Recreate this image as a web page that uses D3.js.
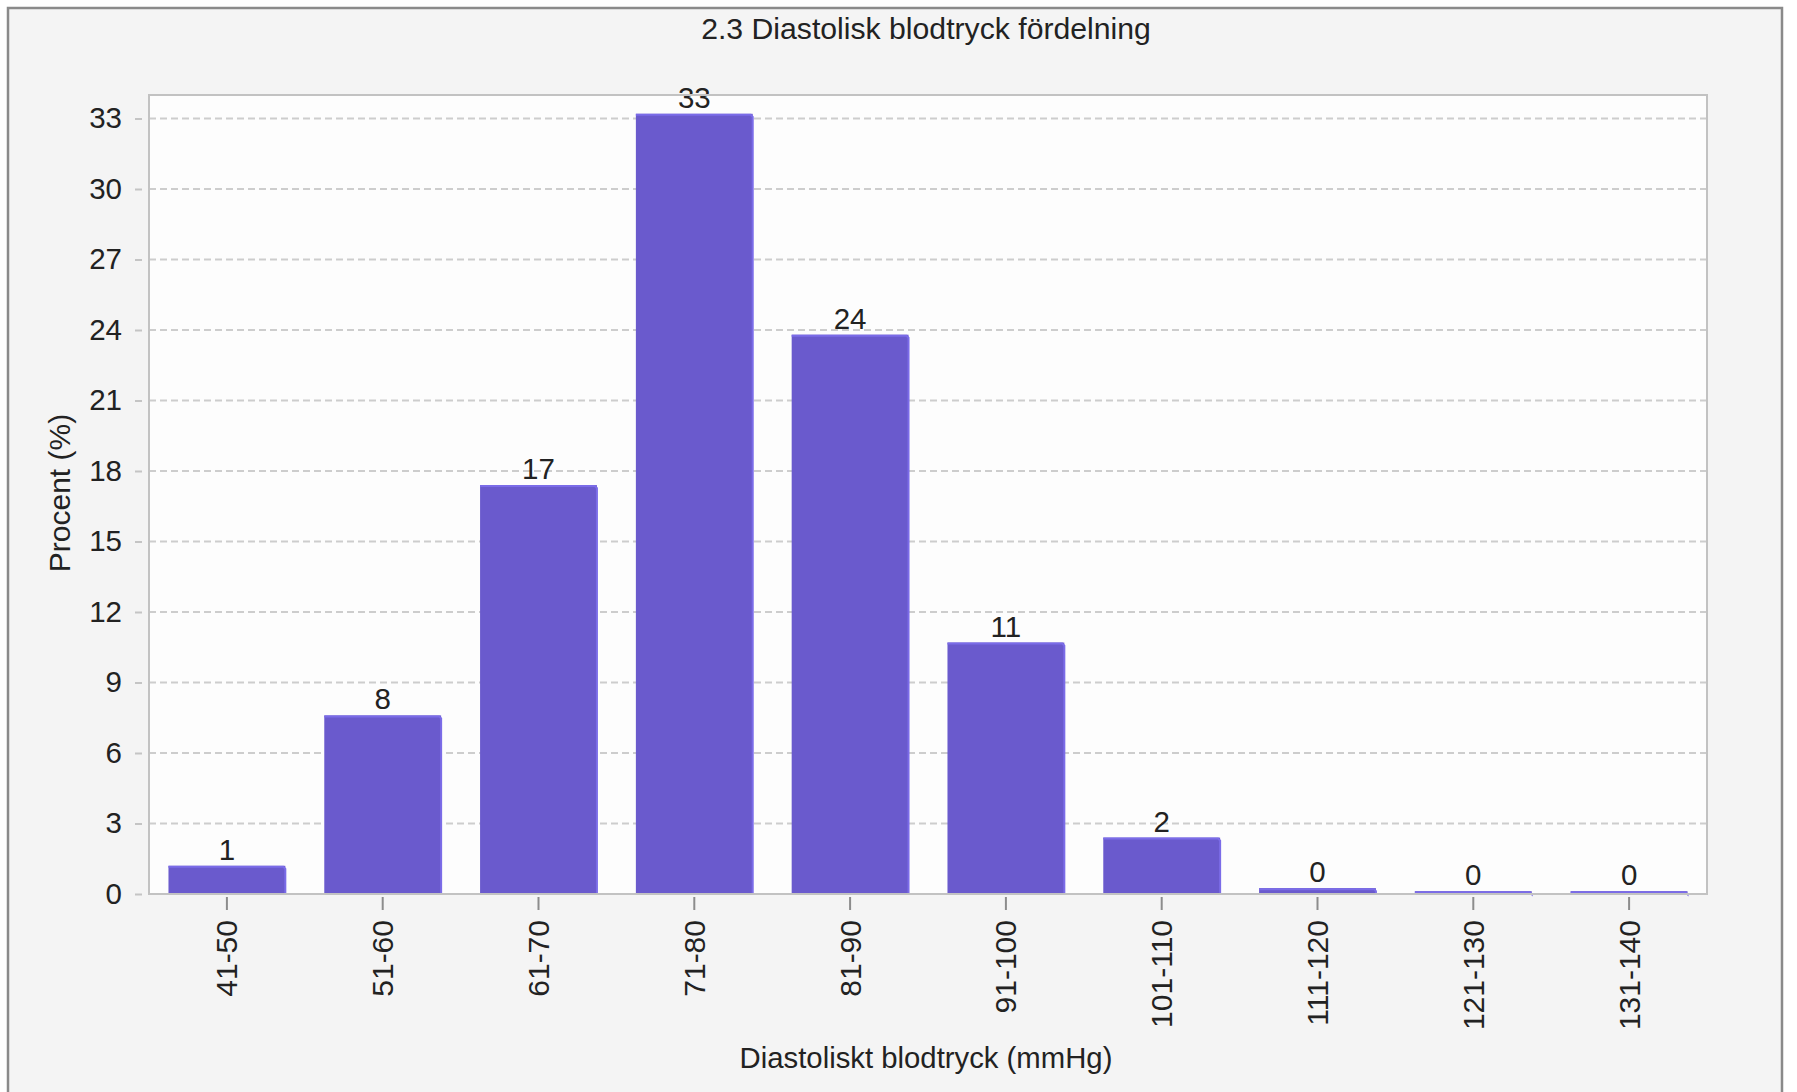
<!DOCTYPE html>
<html>
<head>
<meta charset="utf-8">
<script src="https://cdn.jsdelivr.net/npm/d3@7"></script>
<style>
  html, body { margin: 0; padding: 0; background: #ffffff; }
  svg { display: block; font-family: "Liberation Sans", Arial, sans-serif; }
</style>
</head>
<body>
<div id="chart"></div>
<script>
// data
const categories = ['41-50', '51-60', '61-70', '71-80', '81-90', '91-100', '101-110', '111-120', '121-130', '131-140'];
const percentValues = [1.2, 7.6, 17.4, 33.2, 23.8, 10.7, 2.4, 0.25, 0.12, 0.12];
const valueLabels = ['1', '8', '17', '33', '24', '11', '2', '0', '0', '0'];
const yTicks = [0, 3, 6, 9, 12, 15, 18, 21, 24, 27, 30, 33];

const titleText = '2.3 Diastolisk blodtryck fördelning';
const xTitle = 'Diastoliskt blodtryck (mmHg)';
const yTitle = 'Procent (%)';

const W = 1797, H = 1092;
const plot = { left: 149, right: 1707, top: 95, bottom: 894 };

const svg = d3.select('#chart')
    .append('svg')
    .attr('width', W)
    .attr('height', H);

// outer panel
svg.append('rect')
    .attr('x', 0).attr('y', 0)
    .attr('width', W).attr('height', H)
    .attr('fill', '#ffffff');

svg.append('rect')
    .attr('x', 8).attr('y', 8)
    .attr('width', 1774).attr('height', H + 20)
    .attr('fill', '#f4f4f4')
    .attr('stroke', '#8a8a8a')
    .attr('stroke-width', 2.5);

const x = d3.scaleBand()
    .domain(categories)
    .range([plot.left, plot.right])
    .paddingInner(0.25)
    .paddingOuter(0.125);

const y = d3.scaleLinear()
    .domain([0, 34])
    .range([plot.bottom, plot.top]);

// plot background
svg.append('rect')
    .attr('x', plot.left).attr('y', plot.top)
    .attr('width', plot.right - plot.left)
    .attr('height', plot.bottom - plot.top)
    .attr('fill', '#fdfdfd');

// dashed grid
svg.append('g')
    .selectAll('line')
    .data(yTicks.filter(d => d > 0))
    .join('line')
    .attr('x1', plot.left).attr('x2', plot.right)
    .attr('y1', d => y(d)).attr('y2', d => y(d))
    .attr('stroke', '#cdcdcd')
    .attr('stroke-width', 2)
    .attr('stroke-dasharray', '7,4');

// y axis (ticks offset from the plot edge)
const yAxis = svg.append('g')
    .attr('transform', `translate(${plot.left - 7},0)`)
    .call(d3.axisLeft(y).tickValues(yTicks).tickSize(7).tickPadding(13));
yAxis.select('.domain').remove();
yAxis.selectAll('.tick line').attr('stroke', '#c4c4c4').attr('stroke-width', 2);
yAxis.selectAll('.tick text')
    .attr('font-size', 29.5)
    .attr('fill', '#222')
    .attr('font-family', '"Liberation Sans", Arial, sans-serif');

// bars
const bars = svg.append('g');
bars.selectAll('rect')
    .data(percentValues)
    .join('rect')
    .attr('x', (d, i) => x(categories[i]))
    .attr('y', d => y(d))
    .attr('width', x.bandwidth())
    .attr('height', d => y(0) - y(d))
    .attr('fill', '#6a5acd');

// lighter bevel edge on top and right
bars.selectAll('path')
    .data(percentValues)
    .join('path')
    .attr('d', (d, i) => {
        const x0 = x(categories[i]), x1 = x0 + x.bandwidth();
        return `M${x0},${y(d) + 1}L${x1 - 2},${y(d) + 1}L${x1},${y(d) + 3}L${x1},${y(0)}`;
    })
    .attr('fill', 'none')
    .attr('stroke', '#7b6ce8')
    .attr('stroke-width', 2);

// value labels
svg.append('g')
    .selectAll('text')
    .data(percentValues)
    .join('text')
    .attr('x', (d, i) => x(categories[i]) + x.bandwidth() / 2)
    .attr('y', d => y(d) - 6)
    .attr('text-anchor', 'middle')
    .attr('font-size', 29.5)
    .attr('fill', '#222')
    .text((d, i) => valueLabels[i]);

// plot border
svg.append('rect')
    .attr('x', plot.left).attr('y', plot.top)
    .attr('width', plot.right - plot.left)
    .attr('height', plot.bottom - plot.top)
    .attr('fill', 'none')
    .attr('stroke', '#c2c2c2')
    .attr('stroke-width', 2);

// x axis
const xAxis = svg.append('g')
    .attr('transform', `translate(0,${plot.bottom + 3})`)
    .call(d3.axisBottom(x).tickSize(13).tickPadding(12));
xAxis.select('.domain').remove();
xAxis.selectAll('.tick line').attr('stroke', '#8c8c8c').attr('stroke-width', 2);
xAxis.selectAll('.tick text')
    .attr('font-size', 30)
    .attr('fill', '#222')
    .attr('font-family', '"Liberation Sans", Arial, sans-serif')
    .attr('transform', 'rotate(-90)')
    .attr('text-anchor', 'end')
    .attr('x', -23)
    .attr('y', 0)
    .attr('dy', '0.35em');

// titles
svg.append('text')
    .attr('x', 926).attr('y', 39)
    .attr('text-anchor', 'middle')
    .attr('font-size', 30.2)
    .attr('fill', '#222')
    .text(titleText);

svg.append('text')
    .attr('x', 926).attr('y', 1068)
    .attr('text-anchor', 'middle')
    .attr('font-size', 29.3)
    .attr('fill', '#222')
    .text(xTitle);

svg.append('text')
    .attr('transform', 'translate(70,493) rotate(-90)')
    .attr('text-anchor', 'middle')
    .attr('font-size', 30)
    .attr('fill', '#222')
    .text(yTitle);
</script>
</body>
</html>
